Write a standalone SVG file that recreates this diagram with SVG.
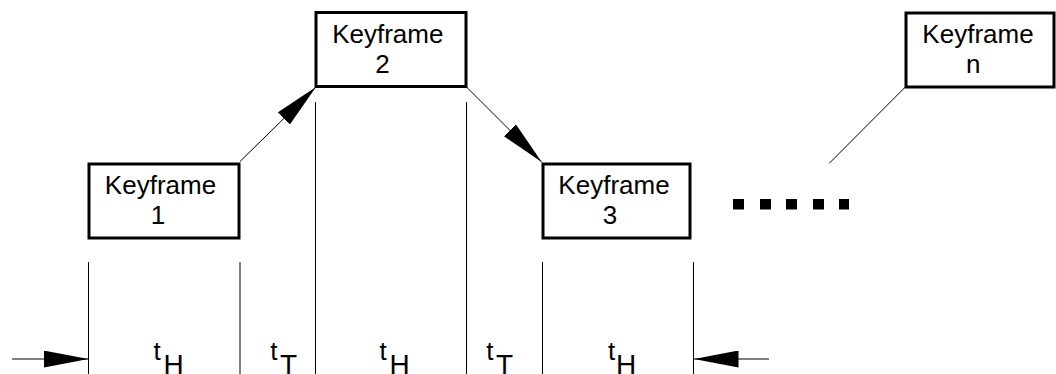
<svg xmlns="http://www.w3.org/2000/svg" width="1056" height="374" viewBox="0 0 1056 374">
  <style>
    .box { fill: #ffffff; stroke: #000000; stroke-width: 3; }
    .lbl { font-family: "Liberation Sans", Arial, sans-serif; font-size: 26px; fill: #000000; text-anchor: middle; }
    .t { font-family: "Liberation Sans", Arial, sans-serif; font-size: 26px; fill: #000000; }
    .sub { font-family: "Liberation Sans", Arial, sans-serif; font-size: 28px; fill: #000000; }
    .conn { stroke: #000000; stroke-width: 1; fill: none; }
    .guide { stroke: #000000; stroke-width: 1; }
    .dot { fill: #000000; }
  </style>
  <defs>
    <marker id="head" markerUnits="userSpaceOnUse" markerWidth="45" markerHeight="17" viewBox="0 0 45 17" refX="45" refY="8.5" orient="auto">
      <path d="M0,0 L45,8.5 L0,17 Z" fill="#000000"/>
    </marker>
  </defs>

  <!-- time-axis guides -->
  <g id="guides">
    <line class="guide" x1="88.5" y1="262" x2="88.5" y2="374"/>
    <line class="guide" x1="240" y1="262" x2="240" y2="374"/>
    <line class="guide" x1="315.5" y1="102" x2="315.5" y2="374"/>
    <line class="guide" x1="466.5" y1="102" x2="466.5" y2="374"/>
    <line class="guide" x1="542.5" y1="262" x2="542.5" y2="374"/>
    <line class="guide" x1="693.5" y1="262" x2="693.5" y2="374"/>
  </g>

  <!-- connectors -->
  <g id="connectors">
    <line class="conn" x1="240" y1="161.5" x2="316" y2="87" marker-end="url(#head)"/>
    <line class="conn" x1="467" y1="87.5" x2="541.7" y2="162" marker-end="url(#head)"/>
    <line class="conn" x1="829.3" y1="163.3" x2="905" y2="87.3"/>
    <line class="conn" x1="12" y1="359" x2="88.5" y2="359" marker-end="url(#head)"/>
    <line class="conn" x1="769" y1="359" x2="693.5" y2="359" marker-end="url(#head)"/>
  </g>

  <!-- keyframes -->
  <g id="keyframe-1">
    <rect class="box" x="89" y="164" width="150" height="74"/>
    <text class="lbl" x="160.5" y="194.3">Keyframe</text>
    <text class="lbl" x="158" y="224.3">1</text>
  </g>
  <g id="keyframe-2">
    <rect class="box" x="316" y="12.5" width="150" height="74"/>
    <text class="lbl" x="387.8" y="43.3">Keyframe</text>
    <text class="lbl" x="382.5" y="73.3">2</text>
  </g>
  <g id="keyframe-3">
    <rect class="box" x="543" y="164" width="147" height="74"/>
    <text class="lbl" x="614" y="194.3">Keyframe</text>
    <text class="lbl" x="610" y="224.3">3</text>
  </g>
  <g id="keyframe-n">
    <rect class="box" x="906" y="13" width="148" height="74"/>
    <text class="lbl" x="978" y="43.3">Keyframe</text>
    <text class="lbl" x="973.3" y="73.3">n</text>
  </g>

  <!-- ellipsis -->
  <g id="ellipsis">
    <rect class="dot" x="733" y="199" width="11" height="10.5"/>
    <rect class="dot" x="760" y="199" width="11" height="10.5"/>
    <rect class="dot" x="786" y="199" width="11" height="10.5"/>
    <rect class="dot" x="813" y="199" width="11" height="10.5"/>
    <rect class="dot" x="839" y="199" width="10" height="10.5"/>
  </g>

  <!-- interval labels -->
  <g id="intervals">
    <text class="t" x="153.6" y="360">t</text><text class="sub" x="163.5" y="373.5">H</text>
    <text class="t" x="270.3" y="360">t</text><text class="sub" x="280" y="373.5">T</text>
    <text class="t" x="379.6" y="360">t</text><text class="sub" x="389.5" y="373.5">H</text>
    <text class="t" x="486.3" y="360">t</text><text class="sub" x="496" y="373.5">T</text>
    <text class="t" x="607.9" y="360">t</text><text class="sub" x="616.1" y="373.5">H</text>
  </g>
</svg>
